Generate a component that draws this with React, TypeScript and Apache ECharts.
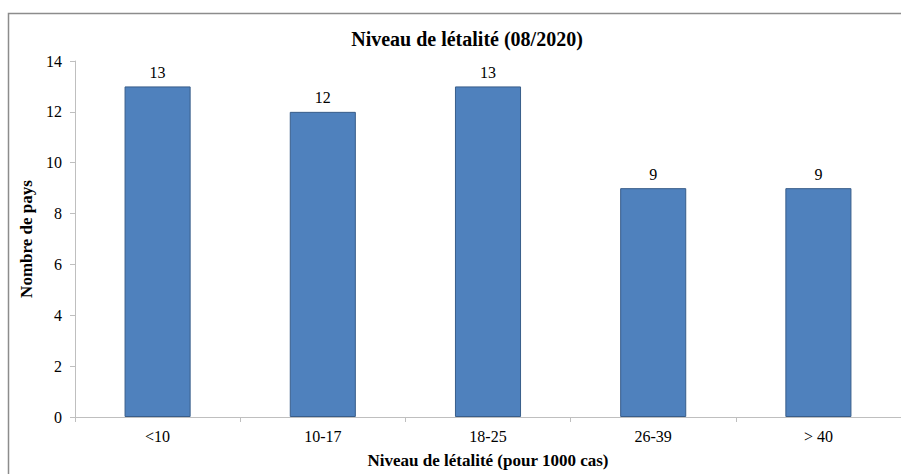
import React, { useEffect, useRef } from "react";
import * as echarts from "echarts";

const categories = ["<10", "10-17", "18-25", "26-39", "> 40"];
const values = [13, 12, 13, 9, 9];
const titleText = "Niveau de létalité (08/2020)";
const xName = "Niveau de létalité (pour 1000 cas)";
const yName = "Nombre de pays";

export default function App() {
  const ref = useRef<HTMLDivElement>(null);
  useEffect(() => {
    const chart = echarts.init(ref.current!, null, { renderer: "svg" });
    const font = "Liberation Serif, DejaVu Serif, serif";
    chart.setOption({
      animation: false,
      backgroundColor: "#ffffff",
      textStyle: { fontFamily: font },
      title: {
        text: titleText,
        left: 462,
        top: 24,
        textAlign: "center",
        textStyle: { fontFamily: font, fontSize: 20, fontWeight: "bold", color: "#000" },
      },
      graphic: [
        {
          type: "rect",
          shape: { x: 8.5, y: 13.5, width: 1000, height: 1000 },
          style: { fill: "none", stroke: "#8c8c8c", lineWidth: 1.5 },
          silent: true,
        },
      ],
      grid: { left: 75, top: 61, width: 829, height: 357, containLabel: false },
      xAxis: {
        type: "category",
        data: categories,
        name: xName,
        nameLocation: "middle",
        nameGap: 35,
        nameTextStyle: { fontFamily: font, fontSize: 17, fontWeight: "bold", color: "#000" },
        axisLine: { lineStyle: { color: "#bfbfbf" } },
        axisTick: { show: true, length: 5, lineStyle: { color: "#bfbfbf" } },
        axisLabel: { fontFamily: font, fontSize: 16, color: "#000", margin: 11 },
        splitLine: { show: false },
      },
      yAxis: {
        type: "value",
        min: 0,
        max: 14,
        interval: 2,
        name: yName,
        nameLocation: "middle",
        nameGap: 34,
        nameTextStyle: { fontFamily: font, fontSize: 17, fontWeight: "bold", color: "#000" },
        axisLine: { show: true, lineStyle: { color: "#bfbfbf" } },
        axisTick: { show: true, length: 5, lineStyle: { color: "#bfbfbf" } },
        axisLabel: { fontFamily: font, fontSize: 16, color: "#000", margin: 13 },
        splitLine: { show: false },
      },
      series: [
        {
          type: "bar",
          data: values,
          barWidth: "40%",
          itemStyle: { color: "#4f81bd", borderColor: "#385d8a", borderWidth: 1 },
          label: {
            show: true,
            position: "top",
            distance: 6,
            fontFamily: font,
            fontSize: 16,
            color: "#000",
          },
        },
      ],
    });
    return () => chart.dispose();
  }, []);
  return <div ref={ref} style={{ width: 901, height: 474, position: "absolute", left: 0, top: 0 }} />;
}
